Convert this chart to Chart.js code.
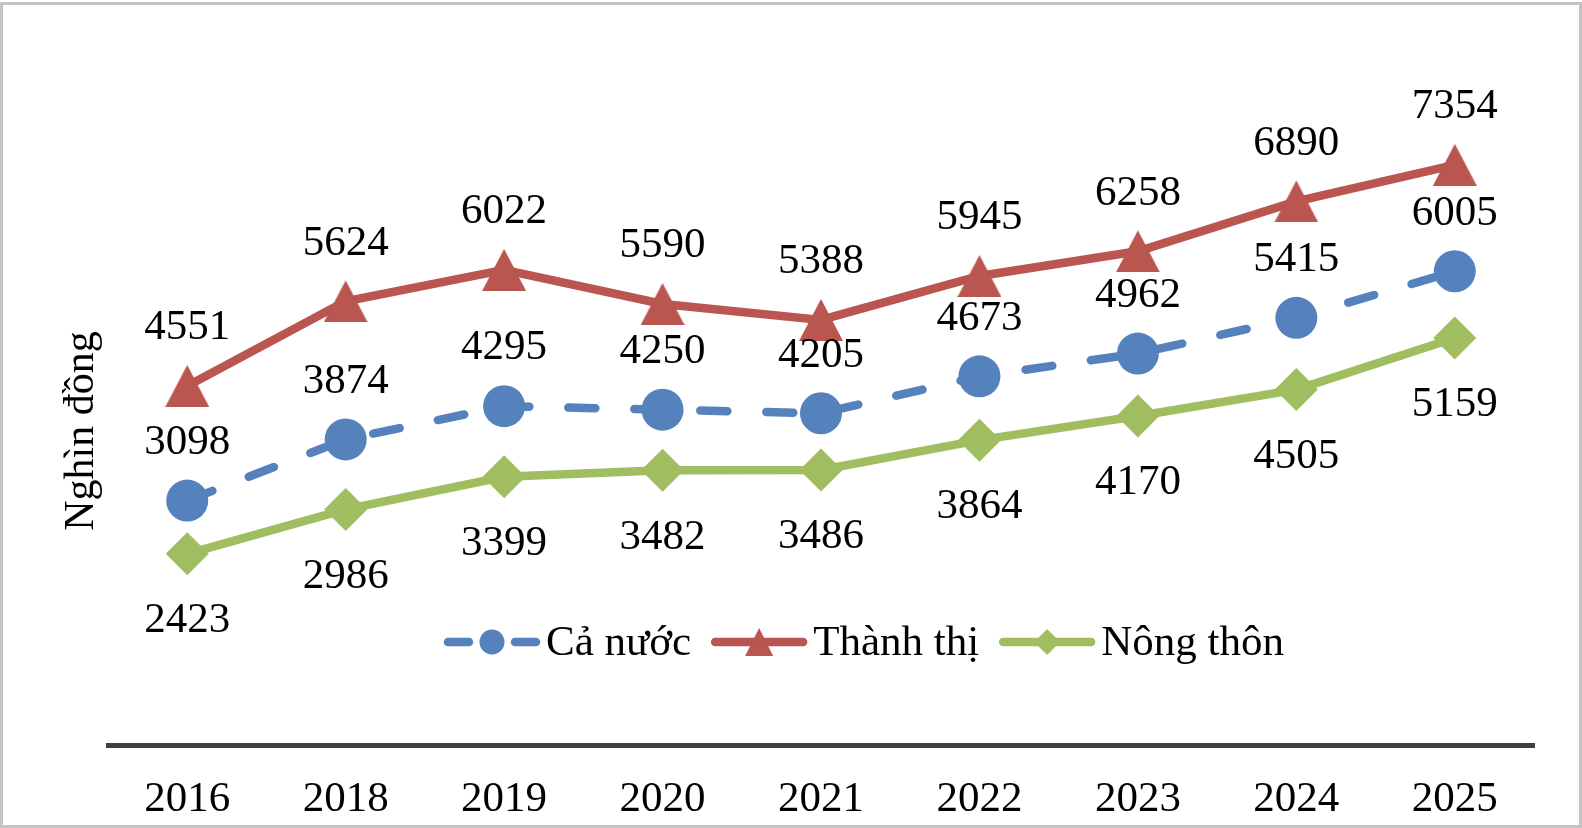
<!DOCTYPE html>
<html>
<head>
<meta charset="utf-8">
<script src="https://cdn.jsdelivr.net/npm/chart.js@4.4.1/dist/chart.umd.min.js"></script>
<style>
  html, body { margin: 0; padding: 0; background: #fff; }
  #frame {
    margin-top: 2px;
    width: 1582px;
    height: 826px;
    border: 3px solid #c4c4c4;
    box-sizing: border-box;
    background: #fff;
  }
  canvas { display: block; }
</style>
</head>
<body>
<div id="frame"><canvas id="incomeChart" width="1576" height="820"></canvas></div>
<script>
const years = ['2016', '2018', '2019', '2020', '2021', '2022', '2023', '2024', '2025'];
const caNuoc = [3098, 3874, 4295, 4250, 4205, 4673, 4962, 5415, 6005];
const thanhThi = [4551, 5624, 6022, 5590, 5388, 5945, 6258, 6890, 7354];
const nongThon = [2423, 2986, 3399, 3482, 3486, 3864, 4170, 4505, 5159];
const seriesNames = ['Cả nước', 'Thành thị', 'Nông thôn'];
const yTitle = 'Nghìn đồng';

const BLUE = '#5581bd';
const RED = '#ba5550';
const GREEN = '#a0bd60';
const SERIF = "'Liberation Serif', 'Times New Roman', serif";

Chart.defaults.font.family = SERIF;
Chart.defaults.color = '#000';

// excel style triangle, centred on its bounding box
function triangleImage(color, w, h) {
	const c = document.createElement('canvas');
	c.width = w;
	c.height = h;
	const g = c.getContext('2d');
	g.fillStyle = color;
	g.beginPath();
	g.moveTo(w / 2, 0);
	g.lineTo(w, h);
	g.lineTo(0, h);
	g.closePath();
	g.fill();
	return c;
}

function drawMarker(ctx, kind, x, y, color) {
	ctx.fillStyle = color;
	ctx.beginPath();
	if (kind === 'circle') {
		ctx.arc(x, y, 12.5, 0, Math.PI * 2);
	} else if (kind === 'triangle') {
		ctx.moveTo(x, y - 14);
		ctx.lineTo(x + 14, y + 14);
		ctx.lineTo(x - 14, y + 14);
		ctx.closePath();
	} else {
		ctx.moveTo(x - 13, y);
		ctx.lineTo(x, y - 13);
		ctx.lineTo(x + 13, y);
		ctx.lineTo(x, y + 13);
		ctx.closePath();
	}
	ctx.fill();
}

const labelShift = [-58, -58, 67];
const legendKinds = ['circle', 'triangle', 'diamond'];

const overlay = {
	id: 'overlay',
	afterDatasetsDraw(chart) {
		const ctx = chart.ctx;
		const area = chart.chartArea;
		ctx.save();

		// value labels
		ctx.font = '43px ' + SERIF;
		ctx.fillStyle = '#000';
		ctx.textAlign = 'center';
		ctx.textBaseline = 'middle';
		chart.data.datasets.forEach(function (ds, i) {
			const meta = chart.getDatasetMeta(i);
			meta.data.forEach(function (pt, j) {
				ctx.fillText(String(ds.data[j]), pt.x, pt.y + labelShift[i]);
			});
		});

		// legend inside the plot
		let x = area.left + 336;
		const y = 637;
		chart.data.datasets.forEach(function (ds, i) {
			ctx.save();
			ctx.strokeStyle = ds.borderColor;
			ctx.lineWidth = 8.5;
			ctx.lineCap = 'round';
			if (i === 0) {
				ctx.setLineDash([21, 46]);
			}
			ctx.beginPath();
			ctx.moveTo(x + 4, y);
			ctx.lineTo(x + 92, y);
			ctx.stroke();
			ctx.restore();
			drawMarker(ctx, legendKinds[i], x + 48, y, ds.borderColor);
			ctx.fillStyle = '#000';
			ctx.textAlign = 'left';
			ctx.textBaseline = 'middle';
			ctx.fillText(ds.label, x + 102, y + 2);
			x += 102 + ctx.measureText(ds.label).width + 20;
		});

		// y axis title
		ctx.translate(90, 426);
		ctx.rotate(-Math.PI / 2);
		ctx.font = '42px ' + SERIF;
		ctx.textAlign = 'center';
		ctx.textBaseline = 'alphabetic';
		ctx.fillStyle = '#000';
		ctx.fillText(yTitle, 0, 0);
		ctx.restore();
	}
};

const ctx = document.getElementById('incomeChart').getContext('2d');
const chart = new Chart(ctx, {
	type: 'line',
	data: {
		labels: years,
		datasets: [
			{
				label: seriesNames[0],
				data: caNuoc,
				borderColor: BLUE,
				backgroundColor: BLUE,
				borderWidth: 8.5,
				borderDash: [27, 39],
				borderCapStyle: 'round',
				pointStyle: 'circle',
				pointRadius: 21,
				pointBorderWidth: 0,
				pointBackgroundColor: BLUE,
			},
			{
				label: seriesNames[1],
				data: thanhThi,
				borderColor: RED,
				backgroundColor: RED,
				borderWidth: 8.5,
				borderCapStyle: 'round',
				pointStyle: triangleImage(RED, 44, 42),
				pointRadius: 22,
				pointBorderWidth: 0,
				pointBackgroundColor: RED,
			},
			{
				label: seriesNames[2],
				data: nongThon,
				borderColor: GREEN,
				backgroundColor: GREEN,
				borderWidth: 8.5,
				borderCapStyle: 'round',
				pointStyle: 'rectRot',
				pointRadius: 21.5,
				pointBorderWidth: 0,
				pointBackgroundColor: GREEN,
			},
		],
	},
	options: {
		responsive: false,
		devicePixelRatio: 1,
		animation: false,
		events: [],
		clip: false,
		layout: {
			padding: { left: 105, right: 45, top: 30, bottom: 0 },
		},
		elements: {
			line: { tension: 0 },
		},
		plugins: {
			legend: { display: false },
			tooltip: { enabled: false },
		},
		scales: {
			x: {
				offset: true,
				grid: { display: false, drawTicks: false },
				border: { display: true, color: '#404040', width: 5 },
				ticks: {
					font: { size: 43, family: SERIF },
					color: '#000',
					padding: 29,
					maxRotation: 0,
				},
				afterFit: function (scale) {
					scale.height = 80;
				},
			},
			y: {
				display: false,
				min: 0,
				max: 9000,
			},
		},
	},
	plugins: [overlay],
});
</script>
</body>
</html>
